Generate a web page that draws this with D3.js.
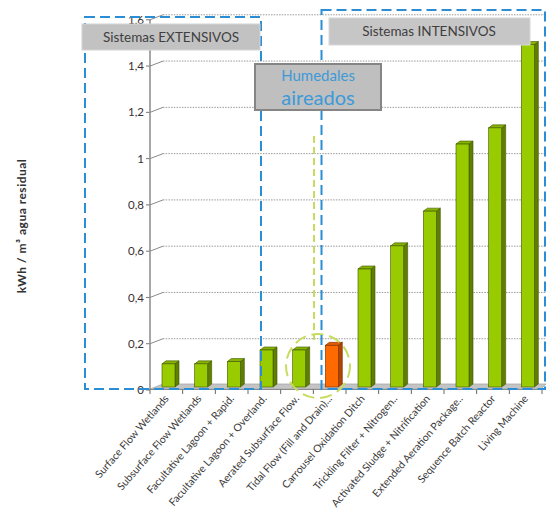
<!DOCTYPE html>
<html lang="es">
<head>
<meta charset="utf-8">
<title>kWh / m3 agua residual</title>
<style>
body { margin: 0; background: #fff; }
svg { font-family: Lato, "Open Sans", sans-serif; }
.grid line { stroke: #9a9a9a; stroke-dasharray: 1.5 1.2; }
.tick-label { font-size: 11.5px; fill: #3a3030; }
.cat-label { font-size: 10.5px; fill: #3a3a3a; }
</style>
</head>
<body>
<svg width="546" height="518"></svg>
<script src="https://d3js.org/d3.v7.min.js"></script>
<script>

const categories = [
  "Surface Flow Wetlands",
  "Subsurface Flow Wetlands",
  "Facultative Lagoon + Rapid.",
  "Facultative Lagoon + Overland.",
  "Aerated Subsurface Flow.",
  "Tidal Flow (Fill and Drain)...",
  "Carrousel Oxidation Ditch",
  "Trickling Filter + Nitrogen..",
  "Activated Sludge + Nitrification",
  "Extended Aeration Package..",
  "Sequence Batch Reactor",
  "Living Machine"
];
const values = [0.10, 0.10, 0.11, 0.16, 0.16, 0.18, 0.51, 0.61, 0.76, 1.05, 1.12, 1.48];
const highlighted = ["Tidal Flow (Fill and Drain)..."];
const yTicks = [0, 0.2, 0.4, 0.6, 0.8, 1, 1.2, 1.4, 1.6];

const svg = d3.select("svg");

let x = d3.scaleBand().domain(categories).range([150, 542]).padding(0);
let y = d3.scaleLinear().domain([0, 1.6]).range([390, 19.8]);

let depthX = 13, depthY = -5;   // back wall offset
let barDx = 4, barDy = -3;      // bar side depth
let fmt = d3.format(",.1f");
function tickText(d) { return d === 0 || d === 1 ? String(d) : fmt(d).replace(".", ","); }

// floor
svg.append("polygon")
  .attr("points", [[150, 389], [541, 389], [546, 384], [163, 384]].join(" "))
  .attr("fill", "#c4c4c4")
  .attr("stroke", "#a8a8a8")
  .attr("stroke-width", 0.8);

// gridlines on the back wall
let grid = svg.append("g").attr("class", "grid");
grid.selectAll("line.g")
  .data(yTicks.slice(1))
  .enter().append("line")
    .attr("class", "g")
    .attr("x1", 150 + depthX)
    .attr("x2", 546)
    .attr("y1", d => y(d) + depthY)
    .attr("y2", d => y(d) + depthY);

svg.append("g").selectAll("line")
  .data(yTicks)
  .enter().append("line")
    .attr("x1", 146).attr("x2", 150)
    .attr("y1", d => y(d)).attr("y2", d => y(d))
    .attr("stroke", "#777");

svg.append("g").selectAll("line")
  .data(yTicks.slice(1))
  .enter().append("line")
    .attr("x1", 150).attr("x2", 150 + depthX)
    .attr("y1", d => y(d)).attr("y2", d => y(d) + depthY)
    .attr("stroke", "#8a8a8a");

// y axis line
svg.append("line")
  .attr("x1", 150).attr("x2", 150)
  .attr("y1", y(0)).attr("y2", y(1.6))
  .attr("stroke", "#8a8a8a").attr("stroke-width", 1.5);

svg.append("g").selectAll("text")
  .data(yTicks)
  .enter().append("text")
    .attr("class", "tick-label")
    .attr("x", 144)
    .attr("y", d => y(d))
    .attr("dy", "0.36em")
    .attr("text-anchor", "end")
    .text(tickText);

// x axis line and ticks
svg.append("line")
  .attr("x1", 150).attr("x2", 541)
  .attr("y1", 389.5).attr("y2", 389.5)
  .attr("stroke", "#8a8a8a");

svg.append("g").selectAll("line")
  .data(categories.concat(["end"]))
  .enter().append("line")
    .attr("x1", (d, i) => 150 + i * x.bandwidth())
    .attr("x2", (d, i) => 150 + i * x.bandwidth())
    .attr("y1", 389.5).attr("y2", 394)
    .attr("stroke", "#666");

// bars
let bars = svg.append("g").selectAll("g")
  .data(categories.map((c, i) => ({ name: c, value: values[i] })))
  .enter().append("g");

function colors(d) {
  return highlighted.includes(d.name)
    ? { front: "#ff6a00", side: "#b04400", top: "#e35a00", line: "#7a2e00" }
    : { front: "#99cc00", side: "#5e7f00", top: "#86b300", line: "#3f5500" };
}

bars.each(function(d) {
  let g = d3.select(this);
  let c = colors(d);
  let x0 = x(d.name) + 12, w = 13;
  let top = y(d.value) - 3, bot = y(0) - 3;
  g.append("polygon")
    .attr("points", [[x0 + w, top], [x0 + w + barDx, top + barDy], [x0 + w + barDx, bot + barDy], [x0 + w, bot]].join(" "))
    .attr("fill", c.side).attr("stroke", c.line).attr("stroke-width", 0.6);
  g.append("polygon")
    .attr("points", [[x0, top], [x0 + barDx, top + barDy], [x0 + w + barDx, top + barDy], [x0 + w, top]].join(" "))
    .attr("fill", c.top).attr("stroke", c.line).attr("stroke-width", 0.6);
  g.append("rect")
    .attr("x", x0).attr("y", top)
    .attr("width", w).attr("height", bot - top)
    .attr("fill", c.front).attr("stroke", c.line).attr("stroke-width", 0.6);
});

// category labels
svg.append("g").selectAll("text")
  .data(categories)
  .enter().append("text")
    .attr("class", "cat-label")
    .attr("text-anchor", "end")
    .attr("transform", d => "translate(" + (x(d) + x.bandwidth() / 2 + 3) + ",399) rotate(-49)")
    .text(d => d);

// y title
svg.append("text")
  .attr("transform", "translate(26,226) rotate(-90)")
  .attr("text-anchor", "middle")
  .style("font-size", "12px")
  .style("font-weight", "bold")
  .style("letter-spacing", "0.5px")
  .style("fill", "#333")
  .text("kWh / m\u00b3 agua residual");

// green dashed marker line + circle
svg.append("line")
  .attr("x1", 314).attr("x2", 314)
  .attr("y1", 136).attr("y2", 340)
  .attr("stroke", "#c6dc5e").attr("stroke-width", 2)
  .attr("stroke-dasharray", "7 4");

svg.append("circle")
  .attr("cx", 318).attr("cy", 366).attr("r", 32)
  .attr("fill", "none")
  .attr("stroke", "#c6dc5e").attr("stroke-width", 2)
  .attr("stroke-dasharray", "12 6");

// blue dashed system boxes
let blue = "#2b8dd3";
svg.append("rect")
  .attr("x", 85).attr("y", 17).attr("width", 176).attr("height", 372)
  .attr("fill", "none").attr("stroke", blue).attr("stroke-width", 2)
  .attr("stroke-dasharray", "10 5");
svg.append("rect")
  .attr("x", 321.5).attr("y", 10).attr("width", 223.5).attr("height", 379)
  .attr("fill", "none").attr("stroke", blue).attr("stroke-width", 2)
  .attr("stroke-dasharray", "10 5");

// label boxes
svg.append("rect")
  .attr("x", 82).attr("y", 24).attr("width", 178).attr("height", 26)
  .attr("fill", "#c2c2c2").attr("stroke", "#d4d4d4");
svg.append("text")
  .attr("x", 171).attr("y", 41.5)
  .attr("text-anchor", "middle")
  .style("font-size", "13.5px").style("fill", "#3f3f3f")
  .text("Sistemas EXTENSIVOS");

svg.append("rect")
  .attr("x", 329).attr("y", 18).attr("width", 201).attr("height", 27)
  .attr("fill", "#c6c6c6").attr("stroke", "#d8d8d8");
svg.append("text")
  .attr("x", 429).attr("y", 35.5)
  .attr("text-anchor", "middle")
  .style("font-size", "13.5px").style("fill", "#3f3f3f")
  .text("Sistemas INTENSIVOS");

svg.append("rect")
  .attr("x", 255).attr("y", 64).attr("width", 126).attr("height", 46)
  .attr("fill", "#bfbfbf").attr("stroke", "#858585").attr("stroke-width", 2);
svg.append("text")
  .attr("x", 318).attr("y", 81)
  .attr("text-anchor", "middle")
  .style("font-size", "15px").style("fill", "#3d9ad8")
  .text("Humedales");
svg.append("text")
  .attr("x", 318).attr("y", 105)
  .attr("text-anchor", "middle")
  .style("font-size", "20px").style("fill", "#3d9ad8")
  .text("aireados");

</script>
</body>
</html>
